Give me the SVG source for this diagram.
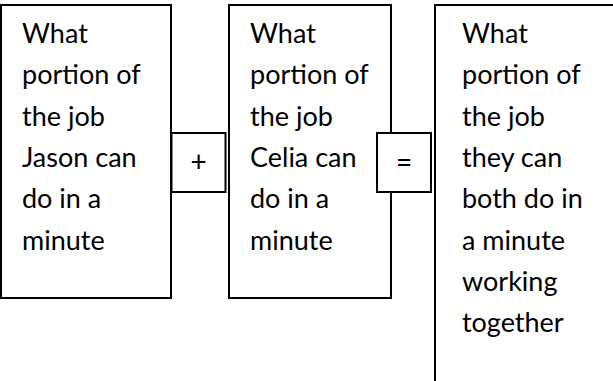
<svg xmlns="http://www.w3.org/2000/svg" width="613" height="381" viewBox="0 0 613 381">
<style>
.box{fill:#fff;stroke:#000;stroke-width:2}
.t{font-family:Lato,"Liberation Sans",sans-serif;font-size:27px;fill:#000}
.op{font-family:Lato,"Liberation Sans",sans-serif;font-size:28px;fill:#000;text-anchor:middle}
</style>
<rect width="613" height="381" fill="#fff"/>
<g id="jason">
<rect class="box" x="1" y="5" width="170" height="293"/>
<text class="t"><tspan x="22" y="43">What</tspan><tspan x="22" y="84.3">portion of</tspan><tspan x="22" y="125.6">the job</tspan><tspan x="22" y="166.9">Jason can</tspan><tspan x="22" y="208.2">do in a</tspan><tspan x="22" y="249.5">minute</tspan></text>
</g>
<g id="celia">
<rect class="box" x="229" y="5" width="162" height="293"/>
<text class="t"><tspan x="250" y="43">What</tspan><tspan x="250" y="84.3">portion of</tspan><tspan x="250" y="125.6">the job</tspan><tspan x="250" y="166.9">Celia can</tspan><tspan x="250" y="208.2">do in a</tspan><tspan x="250" y="249.5">minute</tspan></text>
</g>
<g id="together">
<rect class="box" x="435" y="5" width="200" height="400"/>
<text class="t"><tspan x="462" y="43">What</tspan><tspan x="462" y="84.3">portion of</tspan><tspan x="462" y="125.6">the job</tspan><tspan x="462" y="166.9">they can</tspan><tspan x="462" y="208.2">both do in</tspan><tspan x="462" y="249.5">a minute</tspan><tspan x="462" y="290.8">working</tspan><tspan x="462" y="332.1">together</tspan></text>
</g>
<g id="plus">
<rect class="box" x="171.5" y="133" width="54" height="59"/>
<text class="op" x="198.5" y="172">+</text>
</g>
<g id="equals">
<rect class="box" x="377" y="133" width="54" height="59"/>
<text class="op" x="404" y="172">=</text>
</g>
<g id="connectors"/>
</svg>
